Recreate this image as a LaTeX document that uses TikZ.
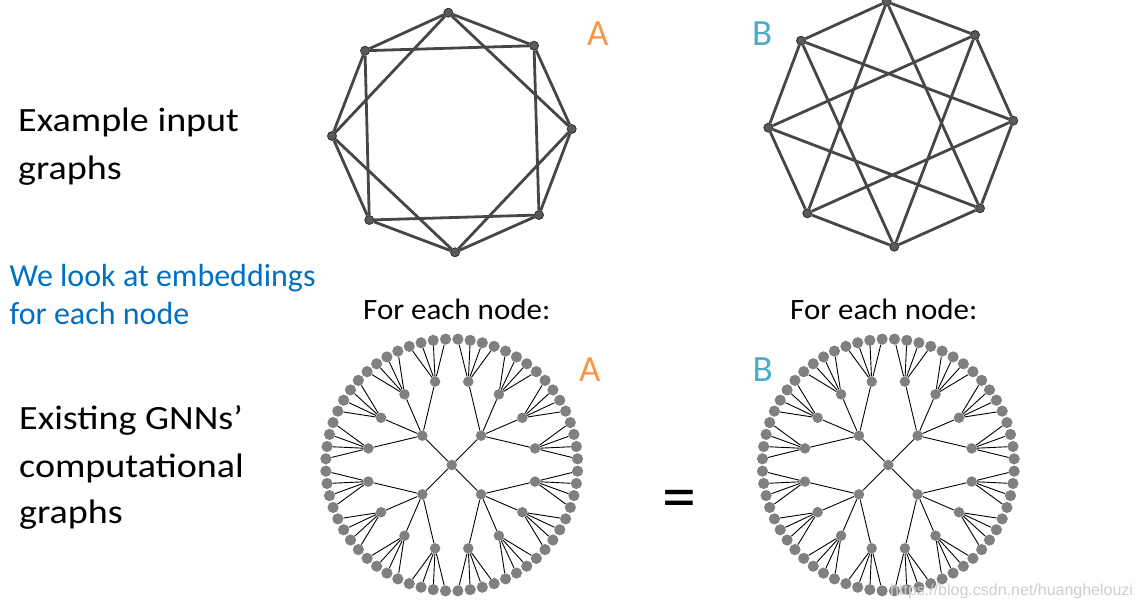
\documentclass[tikz,border=0pt]{standalone}
\usepackage{fontspec}
\setmainfont{Carlito}
\newfontfamily\wmfont{Liberation Sans}
\usetikzlibrary{calc}
\definecolor{gedge}{RGB}{70,70,70}
\definecolor{gfill}{RGB}{90,90,90}
\definecolor{gdraw}{RGB}{45,45,45}
\definecolor{tfill}{RGB}{128,128,128}
\definecolor{labA}{RGB}{247,150,70}
\definecolor{labB}{RGB}{75,172,198}
\definecolor{blueT}{RGB}{0,112,192}
\definecolor{wmark}{RGB}{205,205,205}
\tikzset{
  gnode/.style={circle,fill=gfill,draw=gdraw,line width=0.8pt,minimum size=9pt,inner sep=0pt},
  gedgeS/.style={draw=gedge,line width=2.8pt},
  tnode/.style={circle,fill=tfill,minimum size=10.5pt,inner sep=0pt},
  leaf/.style={circle,fill=tfill,minimum size=11.2pt,inner sep=0pt},
  tedge/.style={draw=black,line width=0.9pt},
  txt/.style={inner sep=0pt,anchor=base west},
}
\newcommand\bigtext[1]{\fontsize{34}{40}\selectfont\scalebox{1.12}[1]{#1}}
\newcommand\midtext[1]{\fontsize{29.5}{35}\selectfont\scalebox{1.05}[1]{#1}}
\newcommand\gnntree[3]{%
  \begin{scope}[shift={(#2,#3)}]
    \node[tnode] (#1-r) at (0,0) {};
    \foreach \i in {0,...,3}{
      \pgfmathsetmacro\ai{45+90*\i}
      \node[tnode] (#1-\i) at (\ai:41.5) {};
      \draw[tedge] (#1-r) -- (#1-\i);
      \foreach \j in {0,...,3}{
        \pgfmathsetmacro\aj{11.25+90*\i+22.5*\j}
        \node[tnode] (#1-\i-\j) at (\aj:85) {};
        \draw[tedge] (#1-\i) -- (#1-\i-\j);
        \foreach \k in {0,...,3}{
          \pgfmathsetmacro\ak{\aj-8.4375+5.625*\k}
          \node[leaf] (#1-\i-\j-\k) at (\ak:126) {};
          \draw[tedge] (#1-\i-\j) -- (#1-\i-\j-\k);
        }
      }
    }
  \end{scope}}
\begin{document}
\begin{tikzpicture}[x=1pt,y=-1pt]
\useasboundingbox (0,0) rectangle (1138,607);
% left texts
\node[txt] (t1) at (18,131.7) {\bigtext{Example input}};
\node[txt] (t2) at (18,179.5) {\bigtext{graphs}};
\node[txt,text=blueT] (t3) at (9.5,286) {\fontsize{32}{38}\selectfont We look at embeddings};
\node[txt,text=blueT] (t4) at (9.5,324.7) {\fontsize{32}{38}\selectfont for each node};
\node[txt] (t5) at (19,429.3) {\bigtext{Existing GNNs’}};
\node[txt] (t6) at (19,477) {\bigtext{computational}};
\node[txt] (t7) at (19,523.7) {\bigtext{graphs}};
\node[txt] (f1) at (363,319) {\midtext{For each node:}};
\node[txt] (f2) at (790,319) {\midtext{For each node:}};
% labels
\node[txt,text=labA] (la1) at (587,46) {\fontsize{37}{40}\selectfont A};
\node[txt,text=labB] (lb1) at (752,46) {\fontsize{37}{40}\selectfont B};
\node[txt,text=labA] (la2) at (579,381) {\fontsize{37}{40}\selectfont A};
\node[txt,text=labB] (lb2) at (752.5,381) {\fontsize{37}{40}\selectfont B};
\node[inner sep=0pt] (eq) at (679.5,504.5) {\fontsize{68}{72}\selectfont =};
% graph A
\foreach \n/\x/\y in {0/448.3/12.7,1/534/45.7,2/571.7/129,3/539/215,4/455/252.3,5/369.3/220,6/332/136,7/365/50.7}
  \node[gnode] (a\n) at (\x,\y) {};
\foreach \n in {0,...,7}{
  \pgfmathtruncatemacro\p{mod(\n+1,8)}
  \pgfmathtruncatemacro\q{mod(\n+2,8)}
  \draw[gedgeS] (a\n) -- (a\p);
  \draw[gedgeS] (a\n) -- (a\q);
}
% graph B
\foreach \n/\x/\y in {0/886.7/1.7,1/975/35,2/1013.3/120.7,3/980/208.3,4/894.3/246.7,5/807.3/213.3,6/768.3/127.7,7/801/40.7}
  \node[gnode] (b\n) at (\x,\y) {};
\foreach \n in {0,...,7}{
  \pgfmathtruncatemacro\p{mod(\n+1,8)}
  \pgfmathtruncatemacro\q{mod(\n+3,8)}
  \draw[gedgeS] (b\n) -- (b\p);
  \draw[gedgeS] (b\n) -- (b\q);
}
% computational trees
\gnntree{TA}{451.7}{465}
\gnntree{TB}{888.3}{465}
% watermark
\node[txt,text=wmark] (wm) at (890,595) {\wmfont\fontsize{16}{18}\selectfont https://blog.csdn.net/huanghelouzi};
\end{tikzpicture}
\end{document}
